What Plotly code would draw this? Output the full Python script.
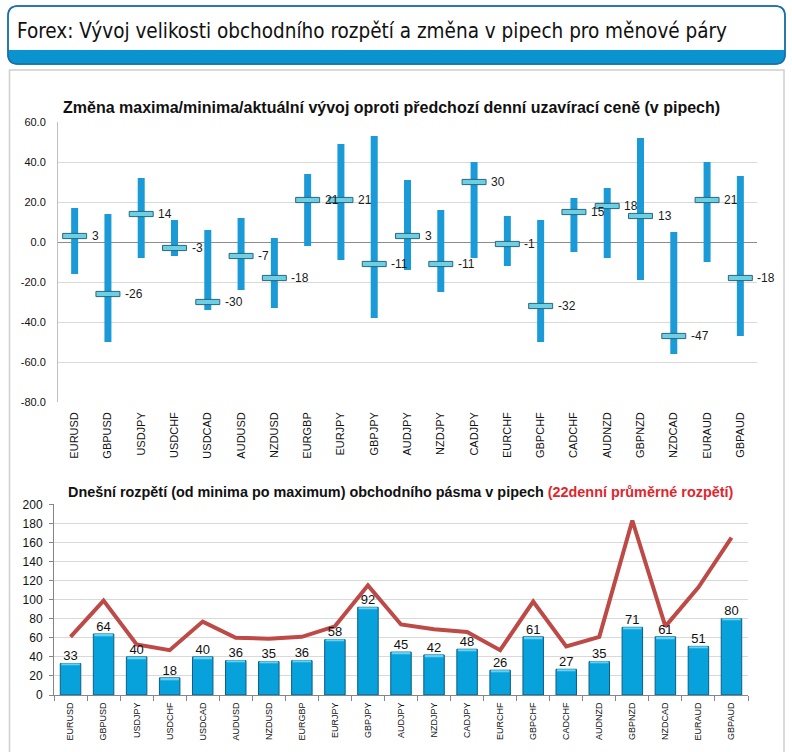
import plotly.graph_objects as go

# ---------------- data ----------------
pairs = ["EURUSD", "GBPUSD", "USDJPY", "USDCHF", "USDCAD", "AUDUSD", "NZDUSD",
         "EURGBP", "EURJPY", "GBPJPY", "AUDJPY", "NZDJPY", "CADJPY", "EURCHF",
         "GBPCHF", "CADCHF", "AUDNZD", "GBPNZD", "NZDCAD", "EURAUD", "GBPAUD"]

change_high = [17, 14, 32, 11, 6, 12, 2, 34, 49, 53, 31, 16, 40, 13, 11, 22, 27, 52, 5, 40, 33]
change_low = [-16, -50, -8, -7, -34, -24, -33, -2, -9, -38, -14, -25, -8, -12, -50, -5, -8, -19, -56, -10, -47]
change_now = [3, -26, 14, -3, -30, -7, -18, 21, 21, -11, 3, -11, 30, -1, -32, 15, 18, 13, -47, 21, -18]

range_today = [33, 64, 40, 18, 40, 36, 35, 36, 58, 92, 45, 42, 48, 26, 61, 27, 35, 71, 61, 51, 80]
range_avg22 = [61, 99, 53, 47, 77, 60, 59, 61, 72, 115, 74, 69, 66, 47, 98, 51, 61, 183, 72, 113, 165]

top_yticks = [60, 40, 20, 0, -20, -40, -60, -80]
top_yticktext = ["60.0", "40.0", "20.0", "0.0", "-20.0", "-40.0", "-60.0", "-80.0"]
bot_yticks = [0, 20, 40, 60, 80, 100, 120, 140, 160, 180, 200]

main_title = "Forex: Vývoj velikosti obchodního rozpětí a změna v pipech pro měnové páry"
top_title = "Změna maxima/minima/aktuální vývoj oproti předchozí denní uzavírací ceně (v pipech)"
bot_title_black = "Dnešní rozpětí (od minima po maximum) obchodního pásma v pipech "
bot_title_red = "(22denní průměrné rozpětí)"

# ---------------- page geometry helpers ----------------
W, H = 792, 752
def px(x):
    return x / W
def py(y):
    return 1 - y / H

FONT = "Liberation Sans, Arial, sans-serif"
NARROW = "Liberation Sans Narrow, Arial Narrow, DejaVu Sans Condensed, Roboto Condensed, Liberation Sans, sans-serif"

fig = go.Figure()

# range bars (top chart)
fig.add_trace(go.Bar(
    x=pairs, base=change_low,
    y=[h - l for h, l in zip(change_high, change_low)],
    width=0.21, marker=dict(color="#1a9ad6", line=dict(width=0)),
    xaxis="x", yaxis="y", hoverinfo="skip"))

# current value markers (top chart)
fig.add_trace(go.Bar(
    x=pairs, base=[c - 1.3 for c in change_now], y=[2.6] * len(change_now),
    width=0.72, marker=dict(color="#6ccfe6", line=dict(color="#2d6674", width=1)),
    xaxis="x", yaxis="y", hoverinfo="skip"))

# bottom chart bars
fig.add_trace(go.Bar(
    x=pairs, y=range_today, width=0.62,
    marker=dict(color="#07a1dc", line=dict(color="#0b5f84", width=1)),
    xaxis="x2", yaxis="y2", hoverinfo="skip"))
# light top cap on the bars (bevel look)
fig.add_trace(go.Bar(
    x=pairs, base=[v - 1.6 for v in range_today], y=[1.6] * len(range_today), width=0.56,
    marker=dict(color="#63d2f2", line=dict(width=0)),
    xaxis="x2", yaxis="y2", hoverinfo="skip"))

# bottom chart line (22-day average range)
fig.add_trace(go.Scatter(
    x=pairs, y=range_avg22, mode="lines",
    line=dict(color="#bd4a47", width=4),
    xaxis="x2", yaxis="y2", hoverinfo="skip"))

# bottom chart bar labels
fig.add_trace(go.Scatter(
    x=pairs, y=range_today, mode="text", text=[str(v) for v in range_today],
    textposition="top center", textfont=dict(family=FONT, size=13, color="#111111"),
    xaxis="x2", yaxis="y2", hoverinfo="skip"))

annotations = []
for p, c in zip(pairs, change_now):
    annotations.append(dict(
        x=p, y=c, xref="x", yref="y", text=str(c), showarrow=False,
        xanchor="left", yanchor="middle", xshift=15,
        font=dict(family=FONT, size=12, color="#1a1a1a")))

annotations.append(dict(
    x=px(15), y=py(31), xref="paper", yref="paper", text=main_title,
    showarrow=False, xanchor="left", yanchor="middle",
    font=dict(family=NARROW, size=20.5, color="#111111")))
annotations.append(dict(
    x=px(391), y=py(108), xref="paper", yref="paper", text="<b>" + top_title + "</b>",
    showarrow=False, xanchor="center", yanchor="middle",
    font=dict(family=FONT, size=16, color="#111111")))
annotations.append(dict(
    x=px(401), y=py(492), xref="paper", yref="paper",
    text="<b>" + bot_title_black + "<span style='color:#e0262d'>" + bot_title_red + "</span></b>",
    showarrow=False, xanchor="center", yanchor="middle",
    font=dict(family=FONT, size=14.4, color="#111111")))

# title box paths
r = 10
x0, x1, y0, y1 = 8, 785, 6, 64
band_top = 50
box_path = (f"M {px(x0+r)},{py(y0)} L {px(x1-r)},{py(y0)} Q {px(x1)},{py(y0)} {px(x1)},{py(y0+r)} "
            f"L {px(x1)},{py(y1-r)} Q {px(x1)},{py(y1)} {px(x1-r)},{py(y1)} "
            f"L {px(x0+r)},{py(y1)} Q {px(x0)},{py(y1)} {px(x0)},{py(y1-r)} "
            f"L {px(x0)},{py(y0+r)} Q {px(x0)},{py(y0)} {px(x0+r)},{py(y0)} Z")
band_path = (f"M {px(x0)},{py(band_top)} L {px(x1)},{py(band_top)} L {px(x1)},{py(y1-r)} "
             f"Q {px(x1)},{py(y1)} {px(x1-r)},{py(y1)} L {px(x0+r)},{py(y1)} "
             f"Q {px(x0)},{py(y1)} {px(x0)},{py(y1-r)} Z")

shapes = [
    dict(type="rect", xref="paper", yref="paper", x0=px(9.5), x1=px(784), y0=py(760), y1=py(70),
         line=dict(color="#cfcfcf", width=1.5), fillcolor="white", layer="below"),
    dict(type="path", xref="paper", yref="paper", path=box_path,
         line=dict(color="#1878b8", width=1.5), fillcolor="white", layer="below"),
    dict(type="path", xref="paper", yref="paper", path=band_path,
         line=dict(width=0), fillcolor="#0b93d0", layer="below"),
    dict(type="path", xref="paper", yref="paper", path=box_path,
         line=dict(color="#1a6fa8", width=1.5), fillcolor="rgba(0,0,0,0)", layer="above"),
]

fig.update_layout(
    width=W, height=H, margin=dict(l=0, r=0, t=0, b=0, autoexpand=False),
    paper_bgcolor="white", plot_bgcolor="rgba(0,0,0,0)",
    showlegend=False, barmode="overlay",
    font=dict(family=FONT, color="#111111"),
    annotations=annotations, shapes=shapes,
    xaxis=dict(domain=[px(58), px(757)], anchor="y", type="category", automargin=False,
               range=[-0.5, len(pairs) - 0.5], tickangle=-90,
               tickfont=dict(size=11, color="#111111"), showgrid=False,
               showline=False, ticks="", ticklabelstandoff=7, fixedrange=True),
    yaxis=dict(domain=[py(402), py(122)], anchor="x", range=[-80, 60], automargin=False,
               tickvals=top_yticks, ticktext=top_yticktext,
               tickfont=dict(size=11, color="#111111"), gridcolor="#d9d9d9", gridwidth=1,
               zeroline=True, zerolinecolor="#8c8c8c", zerolinewidth=1,
               showline=True, linecolor="#c0c0c0", ticks="", ticklabelstandoff=9),
    xaxis2=dict(domain=[px(54), px(748)], anchor="y2", type="category", automargin=False,
                range=[-0.5, len(pairs) - 0.5], tickangle=-90,
                tickfont=dict(size=9, color="#111111"), showgrid=False,
                showline=True, linecolor="#868686", ticks="outside", tickson="boundaries",
                ticklen=5, tickcolor="#868686", ticklabelstandoff=3),
    yaxis2=dict(domain=[py(695), py(504.3)], anchor="x2", range=[0, 200], automargin=False,
                tickvals=bot_yticks, tickfont=dict(size=12, color="#111111"),
                gridcolor="#d9d9d9", gridwidth=1, zeroline=False,
                showline=True, linecolor="#868686", ticks="outside", ticklen=4,
                tickcolor="#868686", ticklabelstandoff=4),
)

fig.write_html("out.html", config={"displayModeBar": False},
               post_script="document.body.style.margin='0';")
